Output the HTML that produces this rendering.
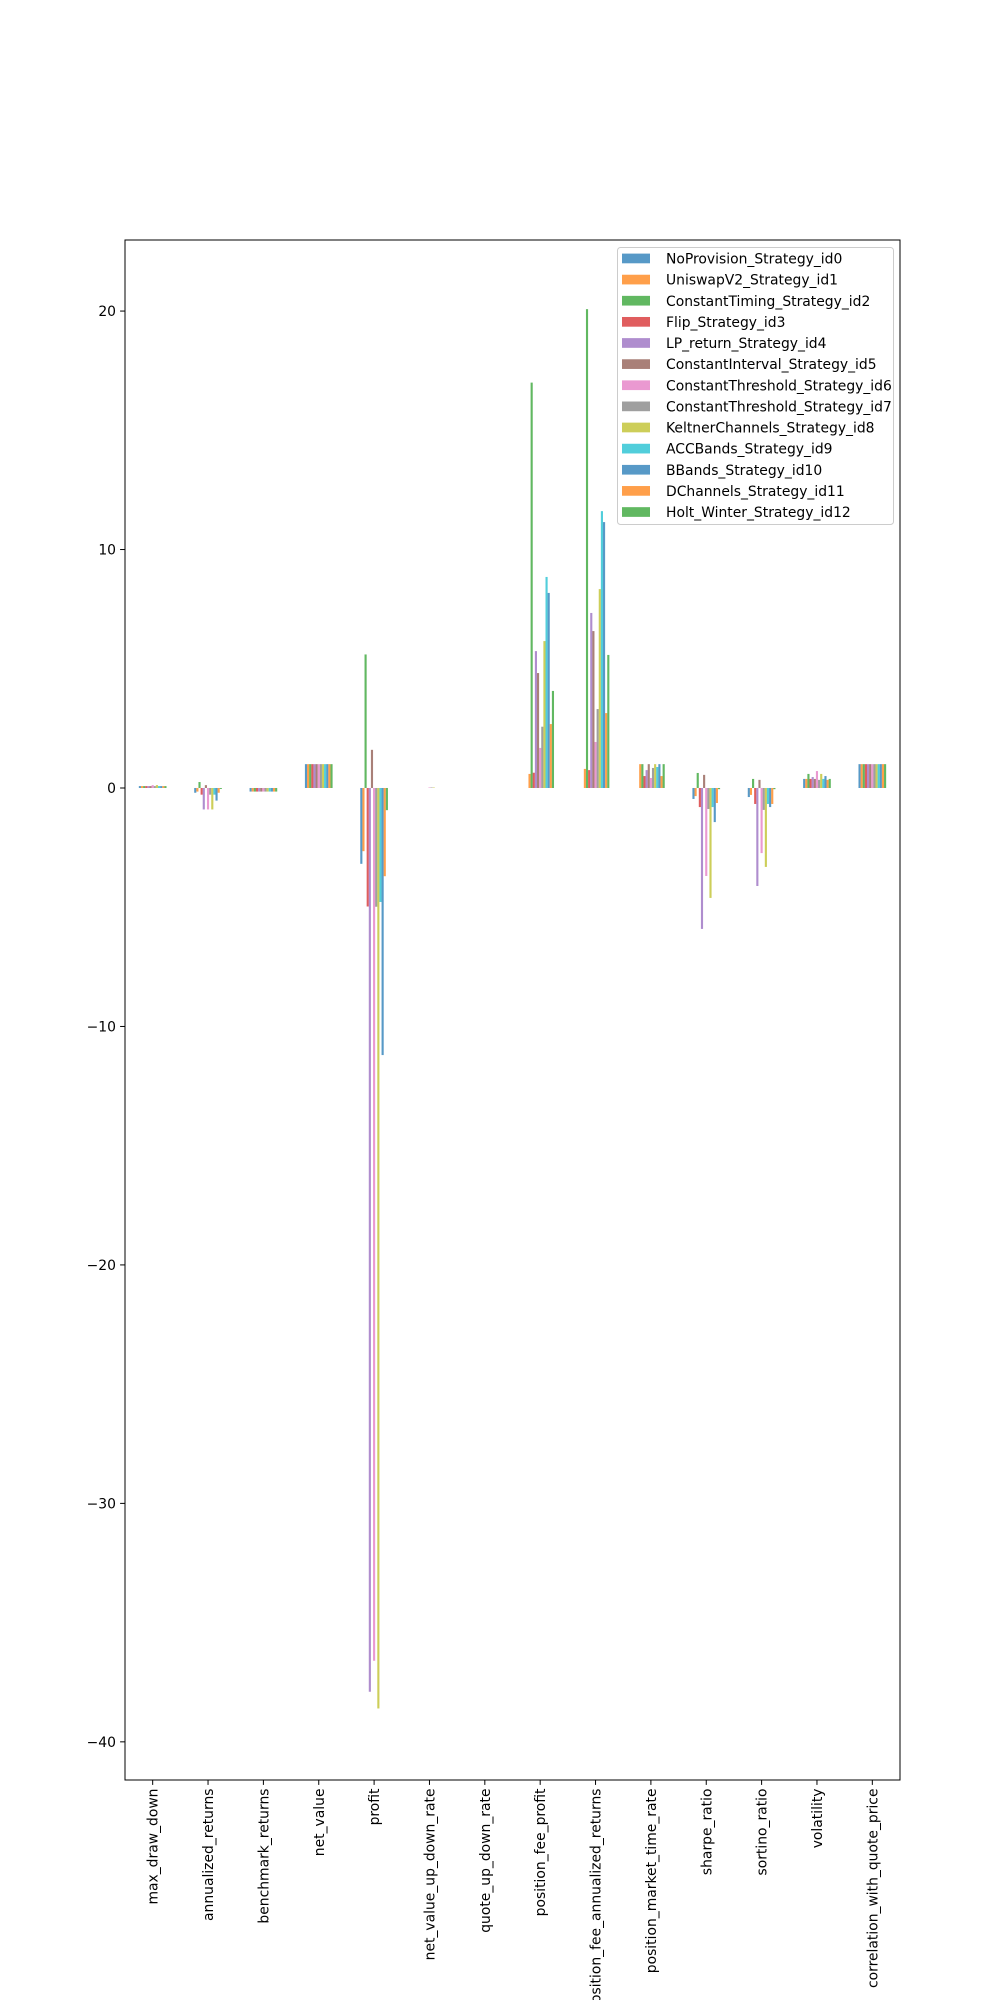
<!DOCTYPE html>
<html>
<head>
<meta charset="utf-8">
<style>
  html, body { margin: 0; padding: 0; background: #fff; }
  svg { display: block; font-family: "DejaVu Sans", "Liberation Sans", sans-serif; }
</style>
</head>
<body>
<svg id="chart" width="1000" height="2000" viewBox="0 0 1000 2000" xmlns="http://www.w3.org/2000/svg">
  <rect x="0" y="0" width="1000" height="2000" fill="#fff"/>
  <g id="bars"></g>
  <g id="yaxis"></g>
  <g id="xaxis"></g>
  <rect x="125" y="240" width="775" height="1540" fill="none" stroke="#000" stroke-width="1"/>
  <g id="legend"></g>
</svg>
<script>
const categories = ["max_draw_down","annualized_returns","benchmark_returns","net_value","profit","net_value_up_down_rate","quote_up_down_rate","position_fee_profit","position_fee_annualized_returns","position_market_time_rate","sharpe_ratio","sortino_ratio","volatility","correlation_with_quote_price"];
const seriesNames = ["NoProvision_Strategy_id0","UniswapV2_Strategy_id1","ConstantTiming_Strategy_id2","Flip_Strategy_id3","LP_return_Strategy_id4","ConstantInterval_Strategy_id5","ConstantThreshold_Strategy_id6","ConstantThreshold_Strategy_id7","KeltnerChannels_Strategy_id8","ACCBands_Strategy_id9","BBands_Strategy_id10","DChannels_Strategy_id11","Holt_Winter_Strategy_id12"];
const colors = ["#1f77b4","#ff7f0e","#2ca02c","#d62728","#9467bd","#8c564b","#e377c2","#7f7f7f","#bcbd22","#17becf","#1f77b4","#ff7f0e","#2ca02c"];
// one array per strategy, values in category order
const s0  = [0.08, -0.20, -0.15, 1.0, -3.18, 0.0,  0, 0.0,  0.0,  0.0,  -0.46, -0.38, 0.38, 1.0];
const s1  = [0.08, -0.15, -0.15, 1.0, -2.65, 0.0,  0, 0.59, 0.80, 1.0,  -0.34, -0.29, 0.38, 1.0];
const s2  = [0.08,  0.25, -0.15, 1.0,  5.60, 0.0,  0, 17.0, 20.08, 1.0,  0.63,  0.38, 0.59, 1.0];
const s3  = [0.08, -0.28, -0.15, 1.0, -4.97, 0.0,  0, 0.64, 0.75, 0.50, -0.80, -0.67, 0.38, 1.0];
const s4  = [0.08, -0.90, -0.15, 1.0, -37.9, 0.0,  0, 5.74, 7.34, 0.75, -5.91, -4.11, 0.46, 1.0];
const s5  = [0.08,  0.12, -0.15, 1.0,  1.60, 0.0,  0, 4.82, 6.58, 1.0,   0.55,  0.34, 0.38, 1.0];
const s6  = [0.12, -0.90, -0.15, 1.0, -36.6, 0.02, 0, 1.68, 1.93, 0.42, -3.69, -2.73, 0.71, 1.0];
const s7  = [0.08, -0.28, -0.15, 1.0, -4.98, 0.02, 0, 2.57, 3.31, 0.84, -0.88, -0.92, 0.34, 1.0];
const s8  = [0.12, -0.90, -0.15, 1.0, -38.6, 0.02, 0, 6.16, 8.34, 1.0,  -4.61, -3.31, 0.59, 1.0];
const s9  = [0.08, -0.28, -0.15, 1.0, -4.78, 0.0,  0, 8.85, 11.61, 0.88, -0.80, -0.67, 0.38, 1.0];
const s10 = [0.08, -0.53, -0.15, 1.0, -11.2, 0.0,  0, 8.18, 11.15, 1.0, -1.43, -0.80, 0.50, 1.0];
const s11 = [0.08, -0.20, -0.15, 1.0, -3.70, 0.0,  0, 2.68, 3.14, 0.50, -0.63, -0.67, 0.34, 1.0];
const s12 = [0.08, -0.04, -0.15, 1.0, -0.93, 0.0,  0, 4.07, 5.58, 1.0,  -0.05, -0.05, 0.38, 1.0];
const series = [s0,s1,s2,s3,s4,s5,s6,s7,s8,s9,s10,s11,s12];
const yTicks = [-40, -30, -20, -10, 0, 10, 20];

const NS = "http://www.w3.org/2000/svg";
const AX = {left:125, right:900, top:240, bottom:1780};
const yMin = -41.6, yMax = 22.98;
const xMin = -0.5, xMax = categories.length - 0.5;
function xScale(v){ return AX.left + (v - xMin) / (xMax - xMin) * (AX.right - AX.left); }
function yScale(v){ return AX.bottom - (v - yMin) / (yMax - yMin) * (AX.bottom - AX.top); }
function mk(tag, attrs, parent){
  const el = document.createElementNS(NS, tag);
  for (const k in attrs) el.setAttribute(k, attrs[k]);
  parent.appendChild(el);
  return el;
}

const barsG = document.getElementById('bars');
const nS = series.length;
const bw = 0.5 / nS;
series.forEach((vals, j) => {
  vals.forEach((v, i) => {
    const center = i + (j - (nS - 1) / 2) * bw;
    const x0 = xScale(center - bw / 2), x1 = xScale(center + bw / 2);
    const ya = yScale(Math.max(v, 0)), yb = yScale(Math.min(v, 0));
    const r = mk('rect', {x: x0, y: ya, width: x1 - x0, height: Math.max(yb - ya, 0), fill: colors[j], 'fill-opacity': 0.75}, barsG);
    
    
  });
});

const yG = document.getElementById('yaxis');
yTicks.forEach(t => {
  const y = yScale(t);
  const tk = mk('line', {x1: AX.left - 4.9, x2: AX.left, y1: y, y2: y, stroke: '#000', 'stroke-width': 1}, yG);
  
  
  const lb = mk('text', {x: AX.left - 9, y: y + 5, 'text-anchor': 'end', 'font-size': '13.9px', fill: '#000'}, yG);
  lb.textContent = t < 0 ? '\u2212' + Math.abs(t) : String(t);
  
  
});

const xG = document.getElementById('xaxis');
categories.forEach((c, i) => {
  const x = xScale(i);
  const tk = mk('line', {x1: x, x2: x, y1: AX.bottom, y2: AX.bottom + 4.9, stroke: '#000', 'stroke-width': 1}, xG);
  
  
  const lb = mk('text', {x: 0, y: 0, 'text-anchor': 'end', 'font-size': '13.9px', fill: '#000',
    transform: 'translate(' + (x + 5) + ',' + (AX.bottom + 8.5) + ') rotate(-90)'}, xG);
  lb.textContent = c;
  
  
});

const lg = document.getElementById('legend');
const fr = mk('rect', {x: 617.5, y: 247.5, width: 276, height: 277, rx: 3, fill: '#fff', 'fill-opacity': 0.8, stroke: '#ccc', 'stroke-width': 1}, lg);


seriesNames.forEach((n, j) => {
  const cy = 258.5 + j * 21.13;
  const p = mk('rect', {x: 622, y: cy - 4.9, width: 28, height: 9.7, fill: colors[j], 'fill-opacity': 0.75}, lg);
  
  
  const t = mk('text', {x: 666, y: cy + 5, 'font-size': '13.9px', fill: '#000'}, lg);
  t.textContent = n;
  
  
});
</script>
</body>
</html>
